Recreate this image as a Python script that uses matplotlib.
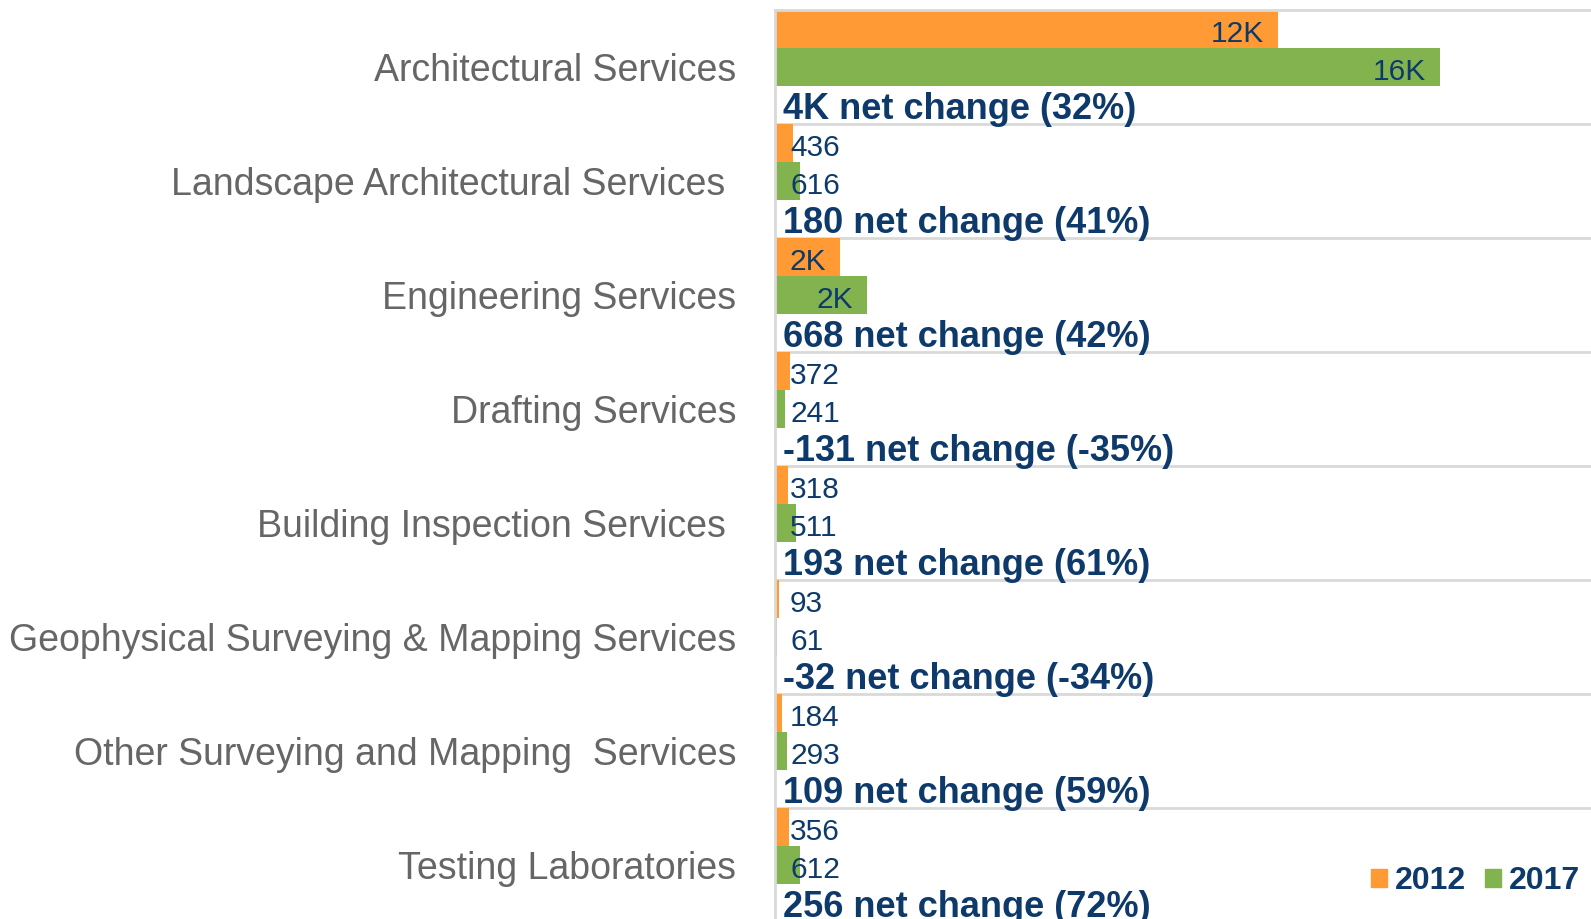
import matplotlib
matplotlib.use("Agg")
import matplotlib.pyplot as plt
from matplotlib.patches import Patch

plt.rcParams['font.family'] = ['Liberation Sans', 'DejaVu Sans']

categories = [
    "Architectural Services",
    "Landscape Architectural Services ",
    "Engineering Services",
    "Drafting Services",
    "Building Inspection Services ",
    "Geophysical Surveying & Mapping Services",
    "Other Surveying and Mapping  Services",
    "Testing Laboratories",
]
values_2012 = [12400, 436, 1600, 372, 318, 93, 184, 356]
values_2017 = [16400, 616, 2268, 241, 511, 61, 293, 612]
series_names = ["2012", "2017"]

C12 = "#FF9A35"
C17 = "#82B34F"
NAVY = "#0E3A6B"
GRAY = "#666666"
SEP = "#D9D9D9"

W, H = 1591, 919
fig = plt.figure(figsize=(W / 100, H / 100), dpi=100)
ax = fig.add_axes([775 / W, 0, 1 - 775 / W, 1 - 10 / H])

n = len(categories)
y12 = [3 * i for i in range(n)]
y17 = [3 * i + 1 for i in range(n)]
ynet = [3 * i + 2 for i in range(n)]

ax.barh(y12, values_2012, height=1.0, color=C12, zorder=2)
ax.barh(y17, values_2017, height=1.0, color=C17, zorder=2)

ax.set_xlim(0, 20120)
ax.set_ylim(23.42, -0.5)


def fmt(v):
    if abs(v) >= 1000:
        return f"{round(v / 1000)}K"
    return f"{v}"


for ys, vals in ((y12, values_2012), (y17, values_2017)):
    for y, v in zip(ys, vals):
        if v >= 1000:
            ax.annotate(fmt(v), xy=(v, y), xytext=(-14, -5), textcoords="offset pixels",
                        ha="right", va="center", fontsize=21.5, color=NAVY, zorder=3)
        else:
            ax.annotate(fmt(v), xy=(0, y), xytext=(15, -5), textcoords="offset pixels",
                        ha="left", va="center", fontsize=21.5, color=NAVY, zorder=3)

for y, a, b in zip(ynet, values_2012, values_2017):
    d = b - a
    pct = d / a * 100
    ax.annotate(f"{fmt(d)} net change ({pct:.0f}%)", xy=(0, y), xytext=(8, -4),
                textcoords="offset pixels", ha="left", va="center",
                fontsize=26, fontweight="bold", color=NAVY, zorder=3)

for i in range(n):
    ax.axhline(3 * i + 2.5, color=SEP, lw=2, zorder=1)

ax.set_yticks(y17)
ax.set_yticklabels(categories, fontsize=27, color=GRAY)
ax.tick_params(axis="y", length=0, pad=28)
ax.set_xticks([])
for s in ("right", "bottom"):
    ax.spines[s].set_visible(False)
for s in ("left", "top"):
    ax.spines[s].set_color(SEP)
    ax.spines[s].set_linewidth(2)

handles = [Patch(color=C12), Patch(color=C17)]
leg = fig.legend(handles, series_names, loc="center right",
                 bbox_to_anchor=(1580 / W, 1 - 881 / H), frameon=False, ncol=2,
                 prop={"size": 23, "weight": "bold"}, handlelength=0.5, handleheight=0.5,
                 handletextpad=0.25, columnspacing=0.6, borderaxespad=0, borderpad=0)
for t in leg.get_texts():
    t.set_color(NAVY)

fig.savefig("out.png", dpi=100)
